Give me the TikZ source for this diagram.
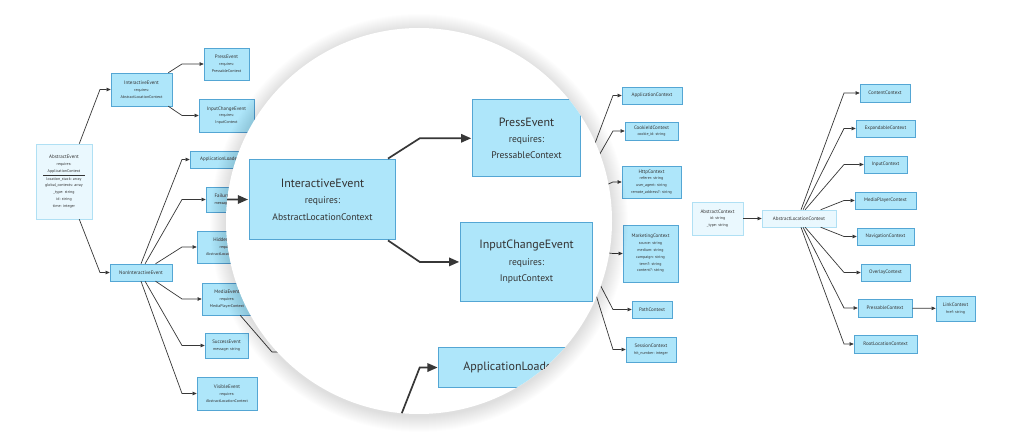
\documentclass[tikz,border=0pt]{standalone}
\usepackage{fontspec}
\setmainfont{PT Sans}
\usetikzlibrary{positioning, arrows.meta}
\usepackage{xcolor}

\definecolor{boxfill}{RGB}{174,230,250}
\definecolor{boxline}{RGB}{84,166,212}
\definecolor{lightfill}{RGB}{234,248,254}
\definecolor{lightline}{RGB}{176,224,244}
\definecolor{edgecol}{RGB}{55,55,55}
\definecolor{textgray}{RGB}{51,51,51}

\newcommand{\ttl}{\fontsize{5}{6}\selectfont}
\newcommand{\boxw}{0.5pt}
\newcommand{\edgew}{0.7pt}

% parte ampliada por la lupa (se dibuja dos veces: normal y ampliada)
\newcommand{\drawinteractive}{%
    \coordinate (ex1) at (100,0);
    \coordinate (ex2) at (182,0);
    \node[evbox, sz={61}{33}] (ie) at (141.5,89.5) {{\ttl InteractiveEvent}\\requires:\\AbstractLocationContext};
    \node[evbox, sz={45}{32}] (pe) at (226.5,64) {{\ttl PressEvent}\\requires:\\PressableContext};
    \node[evbox, sz={55}{33}] (ice) at (226.5,115.5) {{\ttl InputChangeEvent}\\requires:\\InputContext};
    \node[evbox, sz={72}{17}] (ale) at (226,159.5) {{\ttl ApplicationLoadedEvent}};
    \draw[link] (aetop) -- (ex1 |- ie.west) -- (ie.west);
    \draw[link] (ie.32) -- (ex2 |- pe.west) -- (pe.west);
    \draw[link] (ie.-32) -- (ex2 |- ice.west) -- (ice.west);
    \draw[link] (nietop) -- (ex2 |- ale.west) -- (ale.west);
}

\begin{document}
\begin{tikzpicture}[
        x=1pt, y=-1pt,
        evbox/.style={rectangle, draw=boxline, fill=boxfill, line width=\boxw, inner sep=1pt, align=center, text=textgray, font=\fontsize{4}{6.8}\selectfont},
        lightbox/.style={evbox, draw=lightline, fill=lightfill},
        sz/.style 2 args={minimum width=#1pt, minimum height=#2pt},
        link/.style={draw=edgecol, line width=\edgew, -{Triangle[length=0pt 6, width=0pt 5]}}
    ]
    \useasboundingbox (0,0) rectangle (1012,443);
    \fill[white] (0,0) rectangle (1012,443);
    
    % EVENTOS
    \node[lightbox, sz={56}{75}] (ae) at (64,181.5) {{\ttl AbstractEvent}\\requires:\\ApplicationContext\\[-2.5pt]\rule[1.5pt]{42pt}{0.3pt}\\[-3pt]location\_stack: array\\global\_contexts: array\\\_type: string\\id: string\\time: integer};
    \node[evbox, sz={62}{17}] (nie) at (141,272.5) {{\ttl NonInteractiveEvent}};
    \coordinate (aetop) at (ae.68);
    \coordinate (nietop) at (nie.90);
    \drawinteractive
    \node[evbox, sz={44}{25}] (fe) at (228,199.5) {{\ttl FailureEvent}\\message: string};
    \node[evbox, sz={60}{32}] (he) at (227,247) {{\ttl HiddenEvent}\\requires:\\AbstractLocationContext};
    \node[evbox, sz={50}{32}] (me) at (227,299) {{\ttl MediaEvent}\\requires:\\MediaPlayerContext};
    \node[evbox, sz={43}{25}] (se) at (226.5,345.5) {{\ttl SuccessEvent}\\message: string};
    \node[evbox, sz={60}{33}] (ve) at (227,393.5) {{\ttl VisibleEvent}\\requires:\\AbstractLocationContext};
    \coordinate (ex3) at (272,0);
    \coordinate (mchild) at (296,352);
    
    % Flechas
    \draw[link] (ae.-68) -- (ex1 |- nie.west) -- (nie.west);
    \foreach \ang/\tgt in {65/fe, 31/he, -31/me, -65/se, -90/ve}
        \draw[link] (nie.\ang) -- (ex2 |- \tgt.west) -- (\tgt.west);
    \draw[link] (me.-51) -- (ex3 |- mchild) -- (mchild);
    
    % CONTEXTOS GLOBALES
    \coordinate (ctop) at (574,199);
    \coordinate (cbot) at (582,250);
    \coordinate (ex4) at (613,0);
    \node[evbox, sz={60}{17}] (apc) at (652,95.5) {{\ttl ApplicationContext}};
    \node[evbox, sz={53}{18}] (cic) at (651.5,131) {{\ttl CookieIdContext}\\[-1.5pt]cookie\_id: string};
    \node[evbox, sz={59}{32}] (htc) at (651.5,182) {{\ttl HttpContext}\\referer: string\\user\_agent: string\\remote\_address?: string};
    \node[evbox, sz={55}{57}] (mkc) at (650.5,253.5) {{\ttl MarketingContext}\\source: string\\medium: string\\campaign: string\\term?: string\\content?: string};
    \node[evbox, sz={40}{17}] (pac) at (652,309.5) {{\ttl PathContext}};
    \node[evbox, sz={50}{25}] (ssc) at (651,349.5) {{\ttl SessionContext}\\hit\_number: integer};
    \foreach \src/\tgt in {ctop/apc, ctop/cic, ctop/htc, cbot/mkc, cbot/pac, cbot/ssc}
        \draw[link] (\src) -- (ex4 |- \tgt.west) -- (\tgt.west);
    
    % CONTEXTOS DE UBICACIÓN
    \node[lightbox, sz={51}{33}] (ac) at (717.5,218.5) {{\ttl AbstractContext}\\id: string\\\_type: string};
    \node[lightbox, sz={74}{17}] (alc) at (799,218.5) {{\ttl AbstractLocationContext}};
    \coordinate (ex5) at (844,0);
    \node[evbox, sz={50}{18}] (cnt) at (885,93) {{\ttl ContentContext}};
    \node[evbox, sz={59}{17}] (exp) at (885.5,128.5) {{\ttl ExpandableContext}};
    \node[evbox, sz={43}{17}] (inp) at (885.5,164.5) {{\ttl InputContext}};
    \node[evbox, sz={61}{17}] (mpl) at (885.5,200.5) {{\ttl MediaPlayerContext}};
    \node[evbox, sz={57}{17}] (nav) at (885.5,236.5) {{\ttl NavigationContext}};
    \node[evbox, sz={49}{17}] (ovl) at (885.5,272.5) {{\ttl OverlayContext}};
    \node[evbox, sz={54}{18}] (prs) at (885,308) {{\ttl PressableContext}};
    \node[evbox, sz={63}{18}] (rlc) at (885.5,344) {{\ttl RootLocationContext}};
    \node[evbox, sz={39}{25}] (lnk) at (955.5,308.5) {{\ttl LinkContext}\\href: string};
    \draw[link] (ac) -- (alc);
    \foreach \ang/\tgt in {77/cnt, 65/exp, 55/inp, 22/mpl, -22/nav, -55/ovl, -65/prs, -77/rlc}
        \draw[link] (alc.\ang) -- (ex5 |- \tgt.west) -- (\tgt.west);
    \draw[link] (prs) -- (lnk);
    
    % LUPA
    \foreach \k in {1,...,16}
        \fill[black, opacity=0.009] (419,223) circle ({193pt+\k pt});
    \fill[white] (419,221) circle (193pt);
    \begin{scope}
        \clip (419,221) circle (193pt);
        \begin{scope}[shift={(-17.1,-15.3)}, scale=2.4, transform shape]
            \def\boxw{1.1pt}\def\edgew{1.7pt}
            \coordinate (aetop) at (79.2,144);
            \coordinate (nietop) at (141,264);
            \drawinteractive
        \end{scope}
    \end{scope}
\end{tikzpicture}
\end{document}
